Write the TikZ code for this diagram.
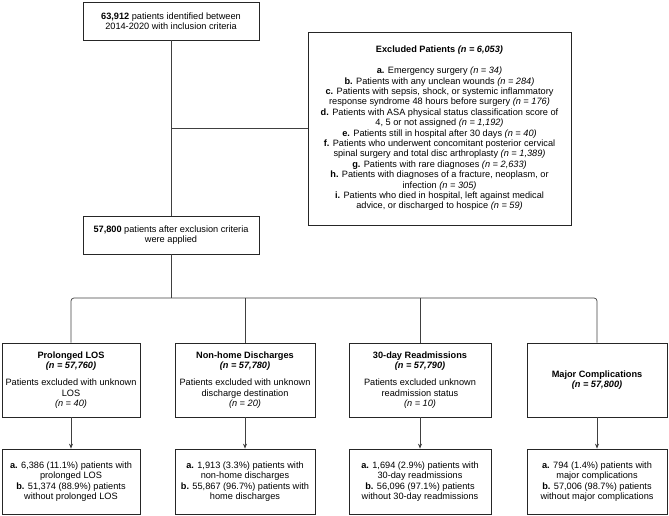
\documentclass[tikz,border=0pt]{standalone}
\usepackage{fontspec}
\setmainfont{Liberation Sans}
\usetikzlibrary{arrows.meta}
\newcommand{\fs}{\fontsize{9.2}{10.4}\selectfont}
\newcommand{\nn}[1]{\textit{(n = #1)}}
\begin{document}
\begin{tikzpicture}[x=1pt,y={(0pt,-1pt)},
  box/.style={draw=black!85, line width=0.75pt, inner sep=1pt, align=center, font=\fs, text=black},
  conn/.style={draw=black!75, line width=0.7pt},
  arr/.style={conn, -{Stealth[length=5pt,width=4pt]}}]
\useasboundingbox (0,0) rectangle (669,515);
% top
\node[box, minimum width=176pt, minimum height=38pt] (top) at (171,21)
  {\textbf{63,912} patients identified between\\2014-2020 with inclusion criteria};
% excluded
\node[box, minimum width=263pt, minimum height=193pt] (excl) at (439.5,128.5)
  {\textbf{Excluded Patients \textit{(n = 6,053)}}\\[10.4pt]
   \textbf{a.} Emergency surgery \nn{34}\\
   \textbf{b.} Patients with any unclean wounds \nn{284}\\
   \textbf{c.} Patients with sepsis, shock, or systemic inflammatory\\
   response syndrome 48 hours before surgery \nn{176}\\
   \textbf{d.} Patients with ASA physical status classification score of\\
   4, 5 or not assigned \nn{1,192}\\
   \textbf{e.} Patients still in hospital after 30 days \nn{40}\\
   \textbf{f.} Patients who underwent concomitant posterior cervical\\
   spinal surgery and total disc arthroplasty \nn{1,389}\\
   \textbf{g.} Patients with rare diagnoses \nn{2,633}\\
   \textbf{h.} Patients with diagnoses of a fracture, neoplasm, or\\
   infection \nn{305}\\
   \textbf{i.} Patients who died in hospital, left against medical\\
   advice, or discharged to hospice \nn{59}};
% middle
\node[box, minimum width=176pt, minimum height=38pt] (mid) at (171,235)
  {\textbf{57,800} patients after exclusion criteria\\were applied};
% four outcome boxes
\node[box, minimum width=138pt, minimum height=74pt] (pl) at (71,380)
  {\textbf{Prolonged LOS}\\\textbf{\textit{(n = 57,760)}}\\[7pt]
   Patients excluded with unknown\\LOS\\\nn{40}};
\node[box, minimum width=140pt, minimum height=74pt] (nh) at (245,380)
  {\textbf{Non-home Discharges}\\\textbf{\textit{(n = 57,780)}}\\[7pt]
   Patients excluded with unknown\\discharge destination\\\nn{20}};
\node[box, minimum width=142pt, minimum height=74pt] (rd) at (420,380)
  {\textbf{30-day Readmissions}\\\textbf{\textit{(n = 57,790)}}\\[7pt]
   Patients excluded unknown\\readmission status\\\nn{10}};
\node[box, minimum width=140pt, minimum height=74pt] (mc) at (597,380)
  {\textbf{Major Complications}\\\textbf{\textit{(n = 57,800)}}};
% result boxes
\node[box, minimum width=138pt, minimum height=65pt] (plr) at (71,481.5)
  {\textbf{a.} 6,386 (11.1\%) patients with\\prolonged LOS\\
   \textbf{b.} 51,374 (88.9\%) patients\\without prolonged LOS};
\node[box, minimum width=140pt, minimum height=65pt] (nhr) at (245,481.5)
  {\textbf{a.} 1,913 (3.3\%) patients with\\non-home discharges\\
   \textbf{b.} 55,867 (96.7\%) patients with\\home discharges};
\node[box, minimum width=142pt, minimum height=65pt] (rdr) at (420,481.5)
  {\textbf{a.} 1,694 (2.9\%) patients with\\30-day readmissions\\
   \textbf{b.} 56,096 (97.1\%) patients\\without 30-day readmissions};
\node[box, minimum width=140pt, minimum height=65pt] (mcr) at (597,481.5)
  {\textbf{a.} 794 (1.4\%) patients with\\major complications\\
   \textbf{b.} 57,006 (98.7\%) patients\\without major complications};
% connectors
\coordinate (br) at (171,128);
\coordinate (bar) at (171,298);
\draw[conn] (top.south) -- (mid.north);
\draw[conn] (br) -- (br -| excl.west);
\draw[conn] (mid.south) -- (bar);
\draw[conn, rounded corners=3pt] (pl.north) |- (bar) -| (mc.north);
\draw[conn] (nh.north) -- (nh.north |- bar);
\draw[conn] (rd.north) -- (rd.north |- bar);
\draw[arr] (pl.south) -- (plr.north);
\draw[arr] (nh.south) -- (nhr.north);
\draw[arr] (rd.south) -- (rdr.north);
\draw[arr] (mc.south) -- (mcr.north);
\end{tikzpicture}
\end{document}
